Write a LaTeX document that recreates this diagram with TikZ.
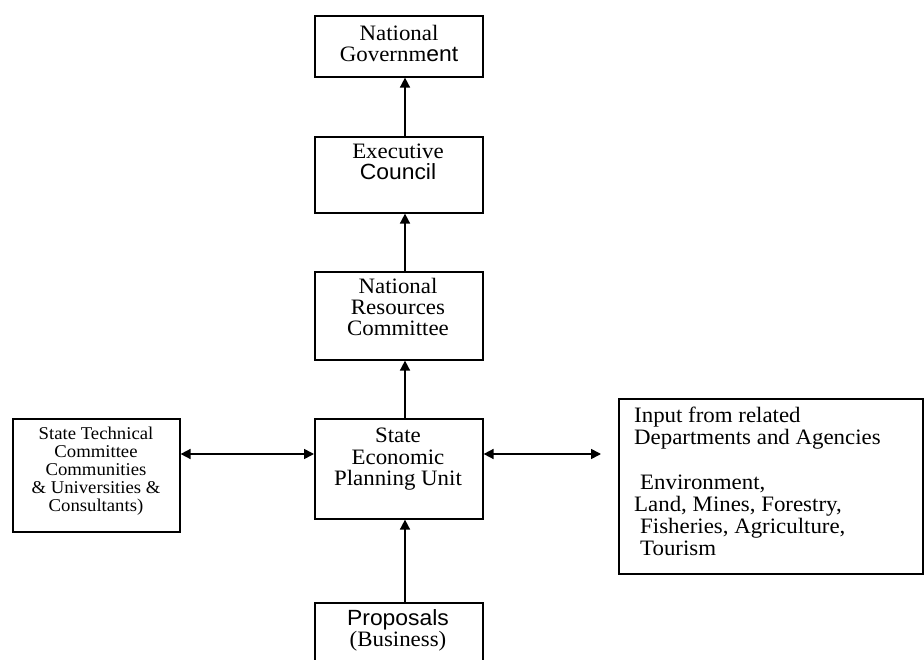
\documentclass[tikz,border=0pt]{standalone}
\usepackage{fontspec}
\setmainfont{Liberation Serif}[FakeStretch=1.04]
\setsansfont{Liberation Sans}[FakeStretch=1.04]
\usetikzlibrary{arrows.meta,calc}
\begin{document}
\begin{tikzpicture}[x=1pt,y=-1pt,
  box/.style={draw=black, line width=1.6pt, rectangle, inner sep=0pt},
  cbox/.style={box, minimum width=168pt, anchor=north west},
  txt/.style={inner sep=0pt, align=center, anchor=north, font=\fontsize{22}{21}\selectfont},
  stxt/.style={inner sep=0pt, align=center, anchor=north, font=\fontsize{18}{18}\selectfont},
  rtxt/.style={inner sep=0pt, align=left, anchor=north west, font=\fontsize{22}{22}\selectfont},
  arr/.style={line width=1.6pt, -{Triangle[length=10pt,width=10pt]}},
  darr/.style={line width=1.6pt, {Triangle[length=10pt,width=10pt]}-{Triangle[length=10pt,width=10pt]}}]
\useasboundingbox (0,0) rectangle (924,660);
\fill[white] (0,0) rectangle (924,660);

% boxes
\node[cbox, minimum height=61pt] (ng) at (314,15) {};
\node[cbox, minimum height=76pt] (ec) at (314,136) {};
\node[cbox, minimum height=88pt] (nrc) at (314,271) {};
\node[cbox, minimum height=100pt] (sepu) at (314,418) {};
\node[box, minimum width=167pt, minimum height=113pt, anchor=north west] (stc) at (12,418) {};
\node[box, minimum width=304pt, minimum height=175pt, anchor=north west] (inp) at (618,398) {};
\begin{scope}
\clip (0,0) rectangle (924,660);
\node[cbox, minimum height=80pt] (prop) at (314,602) {};
\end{scope}

% texts
\node[txt] (ngt) at (399,25) {National\\Governm{\sffamily ent}};
\node[txt] (ect) at (398,144) {Executive\\{\sffamily Council}};
\node[txt] (nrct) at (398,278) {National\\Resources\\Committee};
\node[txt, font=\fontsize{22}{21.5}\selectfont] (seput) at (398,428) {State\\Economic\\Planning Unit};
\node[txt] (propt) at (398,609) {{\sffamily Proposals}\\(Business)};
\node[stxt] (stct) at (96,427) {State Technical\\Committee\\Communities\\\& Universities \&\\Consultants)};
\node[rtxt] (inpt) at (634,407) {Input from related\\Departments and Agencies\\[23pt]
\hspace{6pt}Environment,\\Land, Mines, Forestry,\\\hspace{6pt}Fisheries, Agriculture,\\\hspace{6pt}Tourism};

% connectors
\coordinate (vx) at (405,0);
\coordinate (hy) at (0,454);
\coordinate (rend) at (601,454);
\draw[arr] (ec.north -| vx) -- (ng.south -| vx);
\draw[arr] (nrc.north -| vx) -- (ec.south -| vx);
\draw[arr] (sepu.north -| vx) -- (nrc.south -| vx);
\draw[arr] (prop.north -| vx) -- (sepu.south -| vx);
\draw[darr] (stc.east |- hy) -- (sepu.west |- hy);
\draw[darr] (sepu.east |- hy) -- (rend);
\end{tikzpicture}
\end{document}
